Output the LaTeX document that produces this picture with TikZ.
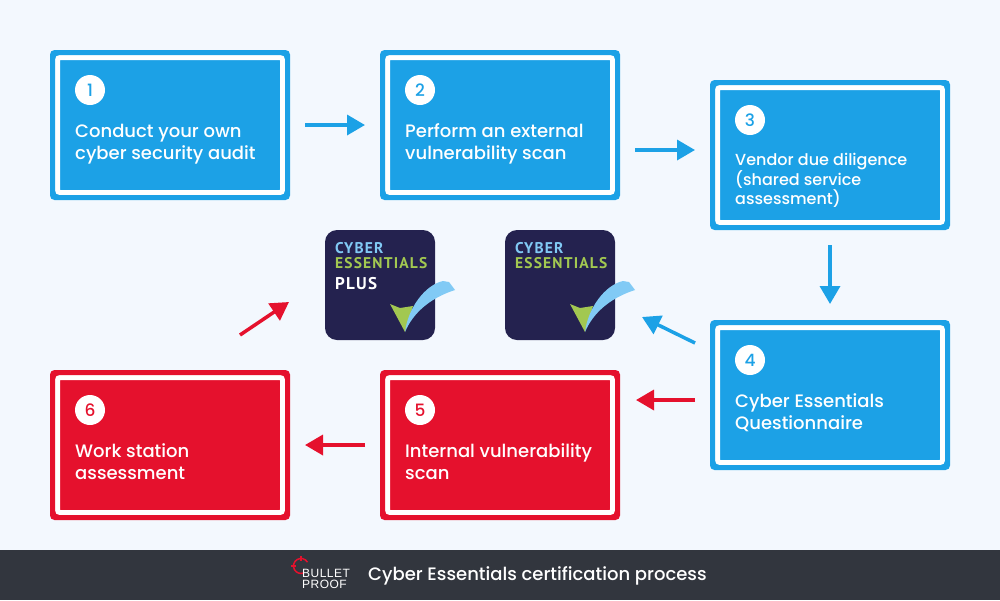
\documentclass[tikz,border=0pt]{standalone}
\usepackage{fontspec}
\setmainfont{Poppins Medium}
\newfontfamily\badgefont[LetterSpace=7.5]{PT Sans Bold}
\newfontfamily\brandfont[LetterSpace=4]{Liberation Sans}
\usetikzlibrary{calc,arrows.meta}
\definecolor{pagebg}{HTML}{F3F8FE}
\definecolor{stepblue}{HTML}{1CA1E6}
\definecolor{stepred}{HTML}{E5112D}
\definecolor{footbg}{HTML}{32363E}
\definecolor{badgenavy}{HTML}{24224F}
\definecolor{tickgreen}{HTML}{A2C851}
\definecolor{ticksky}{HTML}{81CAF5}
\pgfdeclarelayer{shadow}
\pgfsetlayers{shadow,main}
\tikzset{
    stepbox/.style={draw=#1,fill=#1,line width=5pt,rounded corners=2.5pt,
        minimum width=235pt,minimum height=145pt,inner sep=0pt,
        path picture={\draw[white,line width=5pt]
            ($(path picture bounding box.south west)+(5pt,5pt)$) rectangle
            ($(path picture bounding box.north east)+(-5pt,-5pt)$);}},
    stepnum/.style={circle,fill=white,minimum size=30pt,inner sep=0pt,
        text=#1,font=\fontsize{17}{17}\selectfont},
    steplabel/.style={anchor=north west,inner sep=0pt,align=left,text=white,
        font=\fontsize{18}{22}\selectfont},
    flow/.style={line width=3.5pt,color=#1,-{Triangle[length=18pt,width=20pt]}},
    badge/.style={fill=badgenavy,rounded corners=12pt,minimum size=110pt,inner sep=0pt},
    badgeword/.style={anchor=west,inner sep=0pt,font=\fontsize{15.5}{15.5}\badgefont},
    brandword/.style={anchor=base west,inner sep=0pt,text=white,font=\fontsize{12}{12}\brandfont},
    badgetick/.pic={
        \fill[tickgreen] (-15,-1) -- (0,27) -- (8,1) -- (-5,3) -- cycle;
        \fill[ticksky] (0,27) .. controls (3,3) and (20,-20) .. (38,-24)
            -- (44,-23) -- (50,-15) .. controls (25,-7) and (8,8) .. (0,27) -- cycle;
    }
}
\begin{document}
\begin{tikzpicture}[x=1pt,y=-1pt]
    \useasboundingbox (0,0) rectangle (1000,600);
    \fill[pagebg] (0,0) rectangle (1000,600);
    \fill[footbg] (0,550) rectangle (1000,600);
    % steps
    \node[stepbox=stepblue] (box1) at (170,125) {};
    \node[stepbox=stepblue] (box2) at (500,125) {};
    \node[stepbox=stepblue] (box3) at (830,155) {};
    \node[stepbox=stepblue] (box4) at (830,395) {};
    \node[stepbox=stepred] (box5) at (500,445) {};
    \node[stepbox=stepred] (box6) at (170,445) {};
    \node[stepnum=stepblue] (num1) at (90,90) {1};
    \node[stepnum=stepblue] (num2) at (420,90) {2};
    \node[stepnum=stepblue] (num3) at (750,120) {3};
    \node[stepnum=stepblue] (num4) at (750,360) {4};
    \node[stepnum=stepred] (num5) at (420,410) {5};
    \node[stepnum=stepred] (num6) at (90,410) {6};
    \node[steplabel] (text1) at (75,121.6) {\strut Conduct your own\\cyber security audit};
    \node[steplabel] (text2) at (405,121.6) {\strut Perform an external\\vulnerability scan};
    \node[steplabel,font=\fontsize{16}{19.5}\selectfont] (text3) at (735,153)
        {Vendor due diligence\\(shared service\\assessment)};
    \node[steplabel] (text4) at (735,391.6) {\strut Cyber Essentials\\Questionnaire};
    \node[steplabel] (text5) at (405,441.6) {\strut Internal vulnerability\\scan};
    \node[steplabel] (text6) at (75,441.6) {\strut Work station\\assessment};
    % badges
    \node[badge] (plus) at (380,285) {};
    \node[badge] (basic) at (560,285) {};
    \node[badgeword,text=ticksky] (cyberA) at (335,248) {CYBER};
    \node[badgeword,text=tickgreen] (essA) at (335,263) {ESSENTIALS};
    \node[badgeword,text=white,font=\fontsize{17}{17}\badgefont] (plusA) at (335,284) {PLUS};
    \node[badgeword,text=ticksky] (cyberB) at (515,248) {CYBER};
    \node[badgeword,text=tickgreen] (essB) at (515,263) {ESSENTIALS};
    \pic at (405,305) {badgetick};
    \pic at (585,305) {badgetick};
    % arrows
    \draw[flow=stepblue,shorten <=15pt,shorten >=15pt] (box1.east) -- (box2.west);
    \draw[flow=stepblue,shorten <=15pt,shorten >=15pt] ([yshift=-25pt]box2.east) -- ([yshift=5pt]box3.west);
    \draw[flow=stepblue,shorten <=15pt,shorten >=16pt] (box3.south) -- (box4.north);
    \coordinate (endA) at (642,317);
    \coordinate (startA) at (695,343);
    \draw[flow=stepblue] (startA) -- (endA);
    \draw[flow=stepred,shorten <=15pt,shorten >=16pt] ([yshift=-5pt]box4.west) -- ([yshift=45pt]box5.east);
    \draw[flow=stepred,shorten <=15pt,shorten >=15pt] (box5.west) -- (box6.east);
    \coordinate (startB) at (240,335);
    \coordinate (endB) at (289,302);
    \draw[flow=stepred] (startB) -- (endB);
    % footer
    \draw[stepred,line width=1.5pt] (307.5,562.2) arc (-30:-290:7.5);
    \draw[stepred,line width=1.5pt] (301,561) -- (301,555.5);
    \draw[stepred,line width=1.5pt] (296,566) -- (290.5,566);
    \node[brandword] (brandA) at (302,577.5) {BULLET};
    \node[brandword] (brandB) at (302,588.5) {PROOF};
    \node[anchor=west,inner sep=0pt,text=white,font=\fontsize{18}{20}\selectfont] (title) at (368,576)
        {Cyber Essentials certification process};
    % soft shadows
    \begin{pgfonlayer}{shadow}
    \foreach \b in {box1,box2,box3,box4,box5,box6,plus,basic}
        \foreach \s in {1,...,8}
            \fill[black,opacity=0.012,rounded corners=8pt]
                ($(\b.north west)+(-\s*1.3pt-2pt,\s*1.3pt+2pt)+(0,-4pt)$) rectangle
                ($(\b.south east)+(\s*1.3pt+2pt,-\s*1.3pt-2pt)+(0,-4pt)$);
    \end{pgfonlayer}
\end{tikzpicture}
\end{document}
